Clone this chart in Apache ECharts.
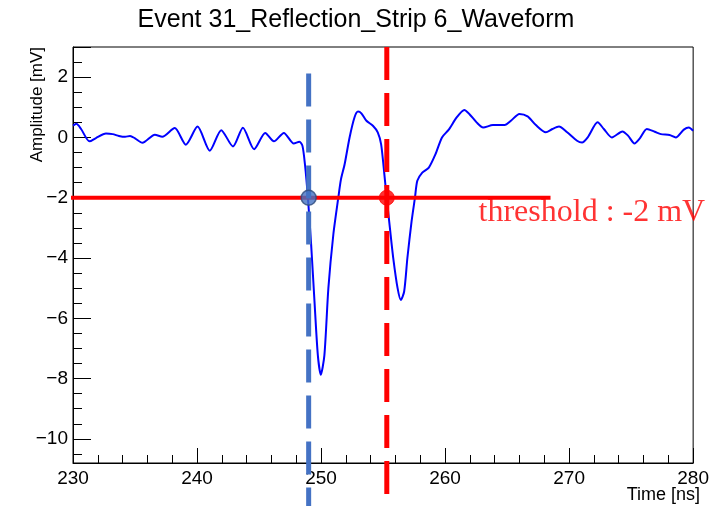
<!DOCTYPE html>
<html>
<head>
<meta charset="utf-8">
<script src="https://cdn.jsdelivr.net/npm/echarts@6/dist/echarts.min.js"></script>
<style>
  html, body { margin: 0; padding: 0; background: #ffffff; }
  #chart { width: 712px; height: 506px; }
</style>
</head>
<body>
<div id="chart"></div>
<script>
// Sampled waveform of strip 6 (time in ns, amplitude in mV)
const timeNs = [
  230.0, 230.27, 230.65, 231.33, 231.85, 232.66, 233.2, 233.7, 234.2, 234.6,
  235.0, 235.6, 236.6, 237.2, 238.2, 239.1, 240.04, 241.03, 241.95, 242.9,
  243.7, 244.6, 245.5, 246.2, 247.0, 247.8, 248.25, 248.5, 248.7, 248.94,
  249.2, 249.47, 249.74, 249.98, 250.27, 250.59, 250.99, 251.39, 251.6, 251.9,
  252.3, 252.7, 252.98, 253.25, 253.64, 254.18, 254.57, 254.84, 255.05, 255.29,
  255.55, 255.82, 256.17, 256.43, 256.7, 256.96, 257.3, 257.57, 257.76, 258.16,
  258.69, 259.22, 259.75, 260.28, 260.95, 261.55, 261.95, 262.54, 263.07, 263.86,
  264.8, 265.33, 265.99, 266.65, 267.32, 268.12, 268.65, 269.18, 269.84, 270.64,
  271.04, 271.5, 272.3, 272.8, 273.45, 274.3, 274.75, 275.27, 275.7, 276.27,
  276.9, 277.4, 278.1, 278.6, 279.25, 279.65, 280.0
];
const amplitudeMv = [
  0.39, 0.45, 0.28, -0.13, -0.02, 0.13, 0.11, 0.05, 0.02, 0.05,
  -0.03, -0.18, 0.09, 0.02, 0.31, -0.24, 0.36, -0.44, 0.24, -0.30,
  0.32, -0.39, 0.15, -0.13, 0.15, -0.20, -0.14, -0.28, -0.89, -2.0,
  -3.55, -5.44, -7.22, -7.87, -7.22, -5.0, -3.22, -2.0, -1.40, -0.89,
  0.0, 0.67, 0.86, 0.80, 0.56, 0.39, 0.17, -0.22, -1.0, -2.0,
  -3.0, -4.0, -5.0, -5.39, -5.11, -4.0, -2.78, -2.0, -1.44, -1.17,
  -1.0, -0.56, 0.0, 0.25, 0.67, 0.91, 0.78, 0.50, 0.33, 0.41,
  0.41, 0.56, 0.78, 0.70, 0.41, 0.17, 0.28, 0.36, 0.17, -0.11,
  -0.17, 0.0, 0.50, 0.28, 0.0, 0.20, 0.06, -0.20, -0.03, 0.28,
  0.19, 0.11, 0.08, 0.0, 0.26, 0.33, 0.22
];

// Threshold and the two threshold crossings
const thresholdMv = -2;
const thresholdSpanNs = [229.6, 268.5];
const firstCrossingNs = 249.0;
const secondCrossingNs = 255.3;
const firstCrossingSpanMv = [2.12, -12.6];
const secondCrossingSpanMv = [3.0, -11.88];
const thresholdLabel = 'threshold : -2 mV';
const thresholdLabelAt = [262.7, -2.5];

// Axis settings
const xRange = [230, 280];
const yRange = [-10.8, 3];
const titleText = 'Event 31_Reflection_Strip 6_Waveform';
const xTitle = 'Time [ns]';
const yTitle = 'Amplitude [mV]';

const waveform = timeNs.map((t, i) => [t, amplitudeMv[i]]);
const minus = v => String(v).replace('-', '\u2212');
const sans = '"Liberation Sans", Arial, Helvetica, sans-serif';

const chart = echarts.init(document.getElementById('chart'), null, { renderer: 'canvas' });

chart.setOption({
  animation: false,
  backgroundColor: '#ffffff',
  title: {
    text: titleText,
    left: 'center',
    top: 3,
    textStyle: { fontFamily: sans, fontSize: 25, fontWeight: 'normal', color: '#000000' }
  },
  grid: {
    left: 73, right: 11, top: 47, bottom: 43,
    show: true, borderColor: '#000000', borderWidth: 1, backgroundColor: 'transparent'
  },
  xAxis: {
    type: 'value',
    min: xRange[0], max: xRange[1], interval: 10,
    axisLine: { show: true, onZero: false, lineStyle: { color: '#000000', width: 1 } },
    axisTick: { show: true, inside: true, length: 15, lineStyle: { color: '#000000', width: 1 } },
    minorTick: { show: true, splitNumber: 5, length: 8, lineStyle: { color: '#000000', width: 1 } },
    splitLine: { show: false },
    axisLabel: { margin: 6, fontFamily: sans, fontSize: 19, color: '#000000', formatter: minus }
  },
  yAxis: {
    type: 'value',
    min: yRange[0], max: yRange[1], splitNumber: 7,
    axisLine: { show: true, onZero: false, lineStyle: { color: '#000000', width: 1 } },
    axisTick: { show: true, inside: true, length: 18, lineStyle: { color: '#000000', width: 1 } },
    minorTick: { show: true, splitNumber: 4, length: 9, lineStyle: { color: '#000000', width: 1 } },
    splitLine: { show: false },
    axisLabel: {
      margin: 5, fontFamily: sans, fontSize: 19, color: '#000000',
      showMinLabel: false, showMaxLabel: false, formatter: minus
    }
  },
  graphic: [
    {
      type: 'text', x: 700, y: 495,
      style: { text: xTitle, fontFamily: sans, fontSize: 18, fill: '#000000', align: 'right', verticalAlign: 'middle' }
    },
    {
      type: 'text', x: 37, y: 47, rotation: Math.PI / 2,
      style: { text: yTitle, fontFamily: sans, fontSize: 17, fill: '#000000', align: 'right', verticalAlign: 'middle' }
    }
  ],
  series: [
    {
      name: 'waveform', type: 'line', data: waveform,
      showSymbol: false, smooth: 0.25,
      lineStyle: { color: '#0000ff', width: 2 }, z: 2
    },
    {
      name: 'threshold', type: 'line', clip: false,
      data: [[thresholdSpanNs[0], thresholdMv], [thresholdSpanNs[1], thresholdMv]],
      showSymbol: false, lineStyle: { color: '#ff0000', width: 4 }, z: 3
    },
    {
      name: 'first crossing', type: 'line', clip: false,
      data: [[firstCrossingNs, firstCrossingSpanMv[0]], [firstCrossingNs, firstCrossingSpanMv[1]]],
      showSymbol: false, lineStyle: { color: '#4472c4', width: 5, type: [33, 13] }, z: 4
    },
    {
      name: 'second crossing', type: 'line', clip: false,
      data: [[secondCrossingNs, secondCrossingSpanMv[0]], [secondCrossingNs, secondCrossingSpanMv[1]]],
      showSymbol: false, lineStyle: { color: '#ff0000', width: 5, type: [33, 13] }, z: 4
    },
    {
      name: 'crossing points', type: 'scatter', clip: false,
      data: [
        { value: [firstCrossingNs, thresholdMv], itemStyle: { color: '#4472c4', borderColor: '#2f4b7c', borderWidth: 1.5 } },
        { value: [secondCrossingNs, thresholdMv], itemStyle: { color: '#ff0000', borderColor: '#ff0000', borderWidth: 1 } }
      ],
      symbol: 'circle', symbolSize: 15, z: 5
    },
    {
      name: 'threshold label', type: 'scatter', clip: false,
      data: [thresholdLabelAt], symbolSize: 0, silent: true,
      label: {
        show: true, position: 'right', distance: 0, formatter: thresholdLabel,
        fontFamily: '"Liberation Serif", "Times New Roman", serif', fontSize: 32, color: '#ff0000'
      },
      z: 6
    }
  ]
});
</script>
</body>
</html>
